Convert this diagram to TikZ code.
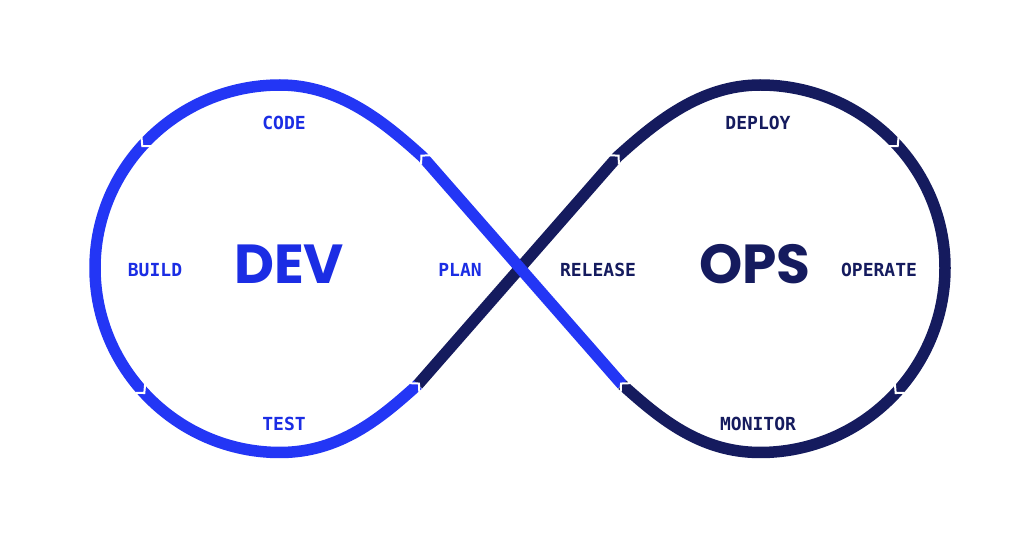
\documentclass[tikz,border=0pt]{standalone}
\usepackage{fontspec}
\newfontfamily\monofnt{DejaVu Sans Mono}
\newfontfamily\popfnt{Poppins}
\definecolor{devblue}{RGB}{35,54,245}
\definecolor{devtext}{RGB}{27,45,228}
\definecolor{opsnavy}{RGB}{21,27,94}
\tikzset{
  loopline/.style={line width=11.5pt, line join=round},
  chev/.style={draw=white, line width=2pt, line join=miter},
  chevmark/.pic={\draw[chev] (-4.5,6.5) -- (1.5,0) -- (-4.5,-6.5);},
  lbl/.style={font=\monofnt\bfseries\fontsize{18}{18}\selectfont, inner sep=0pt},
  big/.style={font=\popfnt\bfseries\fontsize{55}{55}\selectfont, inner sep=0pt},
}
\begin{document}
\begin{tikzpicture}[x=1pt,y=1pt]
\useasboundingbox[fill=white] (0,0) rectangle (1026,536);
% key points
\coordinate (C) at (520,268);
\coordinate (N1) at (422.5,379.3);
\coordinate (NL) at (417.9,151.4);
\coordinate (NR) at (617.5,379.3);
\coordinate (N8) at (622.1,151.4);
\coordinate (Tl) at (280,451);
\coordinate (Lf) at (95,268);
\coordinate (Bl) at (280,83.5);
\coordinate (Tr) at (760,451);
\coordinate (Rt) at (945,268);
\coordinate (Br) at (760,83.5);
\coordinate (N2) at (143.3,391);
\coordinate (N3) at (143.3,144.1);
\coordinate (N6) at (896.7,391);
\coordinate (N7) at (896.7,144.1);
% OPS loop (navy)
\draw[loopline, draw=opsnavy] (NL) -- (NR)
  .. controls (654.7,412.8) and (700,451) .. (Tr)
  .. controls (862.2,451) and (945,369.1) .. (Rt)
  .. controls (945,166.9) and (862.2,83.5) .. (Br)
  .. controls (700,83.5) and (659.3,118) .. (N8);
% DEV loop (blue)
\draw[loopline, draw=devblue] (N8) -- (N1)
  .. controls (385.4,412.8) and (340,451) .. (Tl)
  .. controls (177.8,451) and (95,369.1) .. (Lf)
  .. controls (95,166.9) and (177.8,83.5) .. (Bl)
  .. controls (340,83.5) and (380.9,118) .. (NL);
% notches
\pic[rotate=135] at (N1) {chevmark};
\pic[rotate=228] at (N2) {chevmark};
\pic[rotate=312] at (N3) {chevmark};
\pic[rotate=45] at (NL) {chevmark};
\pic[rotate=45] at (NR) {chevmark};
\pic[rotate=312] at (N6) {chevmark};
\pic[rotate=228] at (N7) {chevmark};
\pic[rotate=135] at (N8) {chevmark};
% labels
\node[lbl, text=devtext] (code) at (284,413) {CODE};
\node[lbl, text=devtext] (build) at (155,266) {BUILD};
\node[lbl, text=devtext] (plan) at (460,266) {PLAN};
\node[lbl, text=devtext] (test) at (284,112) {TEST};
\node[lbl, text=opsnavy] (release) at (598,266) {RELEASE};
\node[lbl, text=opsnavy] (deploy) at (758,413) {DEPLOY};
\node[lbl, text=opsnavy] (operate) at (879,266) {OPERATE};
\node[lbl, text=opsnavy] (monitor) at (758,112) {MONITOR};
\node[big, text=devtext] (dev) at (289,272) {DEV};
\node[big, text=opsnavy] (ops) at (755,272) {OPS};
\end{tikzpicture}
\end{document}
